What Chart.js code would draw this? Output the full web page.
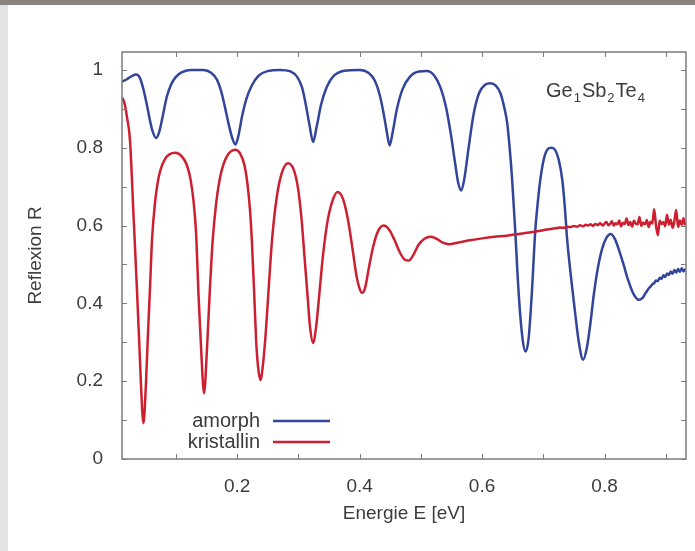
<!DOCTYPE html>
<html>
<head>
<meta charset="utf-8">
<script src="https://cdn.jsdelivr.net/npm/chart.js@4.4.1/dist/chart.umd.min.js"></script>
<style>
  html, body { margin: 0; padding: 0; background: #fff; }
  #wrap { position: relative; width: 695px; height: 551px; overflow: hidden; }
  #topband { position: absolute; left: 0; top: 0; width: 695px; height: 5px; background: #8a837e; }
  #leftband { position: absolute; left: 0; top: 5px; width: 8px; height: 546px; background: #e5e3e1; }
  #reflex { position: absolute; left: 0; top: 0; }
</style>
</head>
<body>
<div id="wrap">
  <div id="topband"></div>
  <div id="leftband"></div>
  <canvas id="reflex" width="695" height="551"></canvas>
</div>
<script>
// Photon energy (eV) and reflectance, amorphous film
const amorphE = [
  0.012, 0.020, 0.028, 0.035, 0.041, 0.047, 0.052, 0.057, 0.062, 0.068,
  0.073, 0.079, 0.085, 0.092, 0.100, 0.110, 0.125, 0.145, 0.158, 0.167,
  0.174, 0.180, 0.186, 0.192, 0.197, 0.202, 0.208, 0.215, 0.224, 0.235,
  0.250, 0.270, 0.287, 0.298, 0.306, 0.312, 0.318, 0.324, 0.330, 0.337,
  0.346, 0.358, 0.375, 0.400, 0.415, 0.425, 0.433, 0.439, 0.444, 0.449,
  0.454, 0.461, 0.470, 0.482, 0.497, 0.510, 0.522, 0.532, 0.541, 0.549,
  0.556, 0.561, 0.566, 0.571, 0.578, 0.586, 0.595, 0.605, 0.614, 0.622,
  0.630, 0.636, 0.641, 0.645, 0.649, 0.654, 0.660, 0.666, 0.671, 0.676,
  0.681, 0.687, 0.691, 0.695, 0.701, 0.707, 0.713, 0.719, 0.725, 0.731,
  0.735, 0.739, 0.745, 0.752, 0.758, 0.765, 0.771, 0.777, 0.782, 0.789,
  0.796, 0.803, 0.810, 0.817, 0.824, 0.831, 0.838, 0.845, 0.850, 0.856,
  0.862, 0.866, 0.869, 0.872, 0.875, 0.878, 0.881, 0.884, 0.887, 0.890,
  0.893, 0.896, 0.899, 0.902, 0.905, 0.908, 0.911, 0.914, 0.917, 0.920,
  0.923, 0.926, 0.929, 0.931, 0.933
];
const amorphR = [
  0.970, 0.976, 0.984, 0.988, 0.980, 0.950, 0.915, 0.875, 0.842, 0.825,
  0.842, 0.885, 0.930, 0.962, 0.982, 0.994, 1.000, 1.000, 0.992, 0.975,
  0.945, 0.905, 0.862, 0.825, 0.808, 0.830, 0.880, 0.925, 0.960, 0.985,
  0.997, 1.000, 0.996, 0.982, 0.955, 0.912, 0.860, 0.815, 0.855, 0.910,
  0.955, 0.985, 0.998, 1.000, 0.992, 0.972, 0.935, 0.890, 0.845, 0.806,
  0.840, 0.900, 0.950, 0.982, 0.996, 0.997, 0.985, 0.955, 0.905, 0.835,
  0.760, 0.710, 0.690, 0.720, 0.800, 0.885, 0.940, 0.962, 0.966, 0.960,
  0.940, 0.905, 0.864, 0.800, 0.720, 0.590, 0.420, 0.310, 0.276, 0.310,
  0.420, 0.590, 0.660, 0.717, 0.772, 0.796, 0.800, 0.795, 0.770, 0.717,
  0.650, 0.563, 0.470, 0.375, 0.300, 0.255, 0.285, 0.350, 0.417, 0.490,
  0.540, 0.568, 0.578, 0.565, 0.535, 0.500, 0.462, 0.432, 0.417, 0.409,
  0.414, 0.424, 0.431, 0.438, 0.443, 0.449, 0.452, 0.459, 0.457, 0.466,
  0.463, 0.472, 0.468, 0.477, 0.473, 0.482, 0.476, 0.486, 0.479, 0.488,
  0.481, 0.490, 0.482, 0.487, 0.483
];

// Photon energy (eV) and reflectance, crystalline film
const kristE = [
  0.012, 0.016, 0.020, 0.025, 0.031, 0.036, 0.040, 0.043, 0.047, 0.051,
  0.054, 0.058, 0.061, 0.066, 0.072, 0.082, 0.099, 0.110, 0.118, 0.124,
  0.129, 0.133, 0.137, 0.141, 0.146, 0.151, 0.155, 0.160, 0.166, 0.173,
  0.183, 0.197, 0.205, 0.212, 0.217, 0.221, 0.224, 0.228, 0.231, 0.234,
  0.238, 0.242, 0.247, 0.252, 0.257, 0.264, 0.272, 0.283, 0.292, 0.299,
  0.305, 0.310, 0.315, 0.319, 0.324, 0.329, 0.334, 0.340, 0.347, 0.355,
  0.364, 0.373, 0.381, 0.388, 0.395, 0.400, 0.404, 0.409, 0.415, 0.422,
  0.430, 0.439, 0.448, 0.457, 0.466, 0.474, 0.480, 0.487, 0.496, 0.506,
  0.516, 0.526, 0.536, 0.546, 0.560, 0.580, 0.600, 0.620, 0.640, 0.660,
  0.680, 0.700,
  0.720, 0.727, 0.733, 0.739, 0.745, 0.750, 0.755, 0.760, 0.765, 0.769,
  0.773, 0.777, 0.781, 0.785, 0.789, 0.793, 0.797, 0.800, 0.803, 0.806,
  0.809, 0.812, 0.815, 0.818, 0.821, 0.824, 0.827, 0.830, 0.833, 0.836,
  0.839, 0.842, 0.845, 0.848, 0.851, 0.854, 0.857, 0.860, 0.863, 0.866,
  0.869, 0.872, 0.875, 0.878, 0.881, 0.884, 0.887, 0.890, 0.893, 0.896,
  0.899, 0.902, 0.905, 0.908, 0.911, 0.914, 0.917, 0.920, 0.923, 0.926,
  0.929, 0.931, 0.933
];
const kristR = [
  0.930, 0.915, 0.880, 0.820, 0.620, 0.450, 0.306, 0.190, 0.092, 0.190,
  0.306, 0.450, 0.563, 0.660, 0.725, 0.770, 0.787, 0.777, 0.755, 0.718,
  0.660, 0.580, 0.420, 0.290, 0.169, 0.290, 0.420, 0.560, 0.660, 0.730,
  0.777, 0.795, 0.785, 0.755, 0.705, 0.640, 0.563, 0.420, 0.306, 0.240,
  0.203, 0.240, 0.330, 0.450, 0.563, 0.665, 0.730, 0.760, 0.745, 0.700,
  0.620, 0.520, 0.420, 0.340, 0.298, 0.340, 0.420, 0.520, 0.605, 0.660,
  0.686, 0.668, 0.615, 0.545, 0.470, 0.438, 0.427, 0.440, 0.490, 0.545,
  0.585, 0.600, 0.590, 0.563, 0.530, 0.512, 0.510, 0.522, 0.550, 0.566,
  0.571, 0.566, 0.556, 0.552, 0.556, 0.562, 0.567, 0.571, 0.574, 0.578,
  0.583, 0.588,
  0.593, 0.595, 0.594, 0.597, 0.596, 0.599, 0.597, 0.601, 0.598, 0.602,
  0.600, 0.603, 0.599, 0.604, 0.601, 0.606, 0.600, 0.605, 0.609, 0.601,
  0.604, 0.611, 0.600, 0.606, 0.603, 0.613, 0.598, 0.607, 0.604, 0.618,
  0.601, 0.609, 0.597, 0.612, 0.605, 0.603, 0.622, 0.599, 0.608, 0.603,
  0.614, 0.596, 0.610, 0.605, 0.642, 0.600, 0.575, 0.612, 0.604, 0.609,
  0.598, 0.628, 0.602, 0.615, 0.594, 0.611, 0.640, 0.596, 0.613, 0.602,
  0.619, 0.603, 0.609
];

const xTickValues = [0.1, 0.2, 0.3, 0.4, 0.5, 0.6, 0.7, 0.8, 0.9];
const xTickLabels = ['', '0.2', '', '0.4', '', '0.6', '', '0.8', ''];
const yTickValues = [0, 0.1, 0.2, 0.3, 0.4, 0.5, 0.6, 0.7, 0.8, 0.9, 1.0];
const yTickLabels = ['0', '', '0.2', '', '0.4', '', '0.6', '', '0.8', '', '1'];

const blue = '#33459b';
const red = '#cc1f30';
const textColor = '#3c3c3c';
const fontFamily = "'Liberation Sans', Arial, sans-serif";

const points = (xs, ys) => xs.map((x, i) => ({x, y: ys[i]}));

// gnuplot-like frame with inward ticks on all four sides
const framePlugin = {
  id: 'frame',
  afterDraw(chart) {
    const {ctx, chartArea: a, scales: {x, y}} = chart;
    const len = 5;
    ctx.save();
    ctx.strokeStyle = '#7c7c7c';
    ctx.lineWidth = 1.5;
    ctx.strokeRect(a.left, a.top, a.right - a.left, a.bottom - a.top);
    ctx.lineWidth = 1;
    ctx.beginPath();
    xTickValues.forEach(v => {
      const px = Math.round(x.getPixelForValue(v)) + 0.5;
      ctx.moveTo(px, a.bottom); ctx.lineTo(px, a.bottom - len);
      ctx.moveTo(px, a.top); ctx.lineTo(px, a.top + len);
    });
    yTickValues.forEach(v => {
      const py = Math.round(y.getPixelForValue(v)) + 0.5;
      ctx.moveTo(a.left, py); ctx.lineTo(a.left + len, py);
      ctx.moveTo(a.right, py); ctx.lineTo(a.right - len, py);
    });
    ctx.stroke();
    ctx.restore();
  }
};

// key in the lower left: right-aligned names with a line sample
const keyPlugin = {
  id: 'key',
  afterDraw(chart) {
    const {ctx} = chart;
    const rows = [
      {text: 'amorph', color: chart.data.datasets[0].borderColor, y: 421},
      {text: 'kristallin', color: chart.data.datasets[1].borderColor, y: 442}
    ];
    ctx.save();
    ctx.font = '20px ' + fontFamily;
    ctx.textAlign = 'right';
    ctx.textBaseline = 'middle';
    rows.forEach(r => {
      ctx.fillStyle = textColor;
      ctx.fillText(r.text, 260, r.y);
      ctx.strokeStyle = r.color;
      ctx.lineWidth = 2.5;
      ctx.beginPath();
      ctx.moveTo(273, r.y);
      ctx.lineTo(330, r.y);
      ctx.stroke();
    });
    ctx.restore();
  }
};

// sample label with subscripts
const formulaPlugin = {
  id: 'formula',
  afterDraw(chart) {
    const {ctx} = chart;
    const parts = [['Ge', false], ['1', true], ['Sb', false], ['2', true], ['Te', false], ['4', true]];
    let px = 546;
    const base = 97;
    ctx.save();
    ctx.fillStyle = textColor;
    ctx.textAlign = 'left';
    ctx.textBaseline = 'alphabetic';
    parts.forEach(([t, sub]) => {
      ctx.font = (sub ? '13px ' : '20px ') + fontFamily;
      ctx.fillText(t, px, sub ? base + 5 : base);
      px += ctx.measureText(t).width + 1;
    });
    ctx.restore();
  }
};

const tickFont = {family: fontFamily, size: 19};

new Chart(document.getElementById('reflex').getContext('2d'), {
  type: 'line',
  data: {
    datasets: [
      {
        label: 'amorph',
        data: points(amorphE, amorphR),
        borderColor: blue,
        borderWidth: 2.5,
        pointRadius: 0,
        cubicInterpolationMode: 'monotone',
        order: 1
      },
      {
        label: 'kristallin',
        data: points(kristE, kristR),
        borderColor: red,
        borderWidth: 2.5,
        pointRadius: 0,
        cubicInterpolationMode: 'monotone',
        order: 0
      }
    ]
  },
  options: {
    responsive: false,
    animation: false,
    devicePixelRatio: 1,
    layout: {padding: {top: 52, right: 9, left: 0, bottom: 0}},
    plugins: {legend: {display: false}, tooltip: {enabled: false}},
    scales: {
      x: {
        type: 'linear',
        min: 0.012,
        max: 0.933,
        afterBuildTicks: s => { s.ticks = xTickValues.map(v => ({value: v})); },
        afterFit: s => { s.height = 92; },
        grid: {display: false},
        border: {display: false},
        ticks: {
          font: tickFont, color: textColor, padding: 8,
          maxRotation: 0, autoSkip: false,
          callback: (v, i) => xTickLabels[i]
        },
        title: {
          display: true, text: 'Energie E [eV]', color: textColor,
          font: tickFont, padding: {top: 0, bottom: 26}
        }
      },
      y: {
        type: 'linear',
        min: 0,
        max: 1.046,
        afterBuildTicks: s => { s.ticks = yTickValues.map(v => ({value: v})); },
        afterFit: s => { s.width = 122; },
        grid: {display: false},
        border: {display: false},
        ticks: {
          font: tickFont, color: textColor, padding: 11,
          autoSkip: false,
          callback: (v, i) => yTickLabels[i]
        },
        title: {
          display: true, text: 'Reflexion R', color: textColor,
          font: tickFont, padding: {top: 24, bottom: 0}
        }
      }
    }
  },
  plugins: [framePlugin, keyPlugin, formulaPlugin]
});
</script>
</body>
</html>
